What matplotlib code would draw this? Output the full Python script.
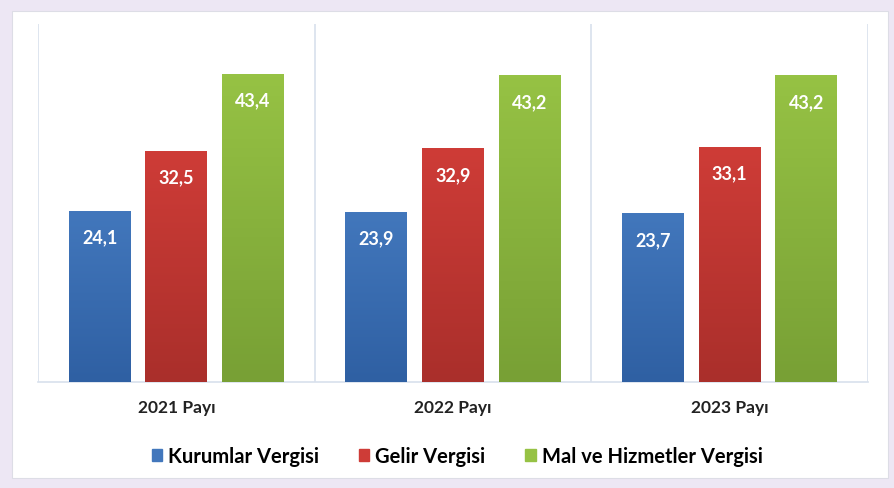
import numpy as np
import matplotlib.pyplot as plt
from matplotlib.patches import Rectangle
from matplotlib.colors import LinearSegmentedColormap

categories = ['2021 Payı', '2022 Payı', '2023 Payı']
series_names = ['Kurumlar Vergisi', 'Gelir Vergisi', 'Mal ve Hizmetler Vergisi']
kurumlar = [24.1, 23.9, 23.7]
gelir = [32.5, 32.9, 33.1]
mal_hizmet = [43.4, 43.2, 43.2]
labels_kurumlar = ['24,1', '23,9', '23,7']
labels_gelir = ['32,5', '32,9', '33,1']
labels_mal = ['43,4', '43,2', '43,2']

# top / bottom shades for the gradient fill
colors = [('#4277BC', '#2F60A3'), ('#CE3C37', '#AA2F2B'), ('#96C244', '#78A035')]

plt.rcParams['font.family'] = ['Lato', 'DejaVu Sans']

fig = plt.figure(figsize=(8.94, 4.89), dpi=100)
fig.patch.set_facecolor('#EDE7F4')
fig.patches.append(Rectangle((12 / 894, 1 - 479 / 489), 876 / 894, 467 / 489,
                             transform=fig.transFigure, facecolor='white',
                             edgecolor='#DDDDE6', linewidth=0.8, zorder=-5))

ax = fig.add_axes([38 / 894, 1 - 383 / 489, 830 / 894, 358 / 489])
ax.set_facecolor('none')

x = np.arange(len(categories))
width = 0.224
offset = 0.277
all_vals = [kurumlar, gelir, mal_hizmet]
all_labels = [labels_kurumlar, labels_gelir, labels_mal]

grad = np.linspace(0, 1, 100).reshape(-1, 1)
for i, vals in enumerate(all_vals):
    bars = ax.bar(x + (i - 1) * offset, vals, width, color=colors[i][0],
                  label=series_names[i], zorder=2)
    cmap = LinearSegmentedColormap.from_list('g%d' % i, [colors[i][1], colors[i][0]])
    for b, lab in zip(bars, all_labels[i]):
        x0, h = b.get_x(), b.get_height()
        ax.imshow(grad, extent=(x0, x0 + b.get_width(), 0, h), origin='lower',
                  cmap=cmap, aspect='auto', zorder=3)
        ax.text(x0 + b.get_width() / 2, h - 3.6, lab, ha='center', va='center',
                color='white', fontsize=13, fontweight='bold', zorder=4)

ax.set_xlim(-0.5, 2.5)
ax.set_ylim(0, 50.5)

for xv in [-0.5, 0.5, 1.5, 2.5]:
    ax.axvline(xv, color='#D8E0EC', linewidth=1.2, zorder=1)
for s in ['top', 'left', 'right']:
    ax.spines[s].set_visible(False)
ax.spines['bottom'].set_color('#D8E0EC')
ax.spines['bottom'].set_linewidth(1.2)

ax.set_yticks([])
ax.set_xticks(x)
ax.set_xticklabels(categories, fontsize=12.5, fontweight='bold', color='#222222')
ax.tick_params(axis='x', length=0, pad=12)

handles = [Rectangle((0, 0), 1, 1, color=c[0]) for c in colors]
fig.legend(handles, series_names, loc='center', bbox_to_anchor=(457 / 894, 1 - 457 / 489),
           ncol=3, frameon=False, prop={'weight': 'bold', 'size': 14.5},
           handlelength=0.5, handleheight=0.5, handletextpad=0.3, columnspacing=2.0)

plt.savefig('out.png', dpi=100, facecolor=fig.get_facecolor())
